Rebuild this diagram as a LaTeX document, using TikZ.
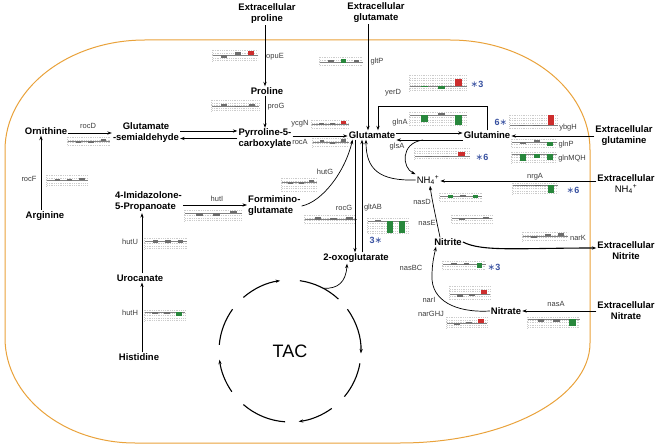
\documentclass[tikz,border=0pt]{standalone}
\usepackage{fontspec}
\setmainfont{Liberation Sans}
\newfontfamily\dejavu{DejaVu Sans}
\usetikzlibrary{arrows.meta,calc}
\definecolor{memb}{RGB}{233,162,59}
\definecolor{sblue}{RGB}{55,80,160}
\definecolor{bred}{RGB}{205,45,45}
\definecolor{bgreen}{RGB}{40,135,60}
\definecolor{bgray}{RGB}{110,110,110}
\definecolor{genec}{RGB}{60,60,60}
\tikzset{
 met/.style={font=\fontsize{9.5}{11}\selectfont\bfseries, inner sep=1pt, align=center},
 gene/.style={font=\fontsize{7.5}{9}\selectfont, text=genec, inner sep=0.5pt},
 starl/.style={font=\fontsize{9}{10}\selectfont\bfseries, text=sblue, inner sep=0.5pt},
 arr/.style={-{Stealth[length=4.5pt,width=3.2pt]}, line width=0.7pt},
 gridl/.style={gray!40, line width=0.3pt, dash pattern=on 1pt off 0.8pt},
 tacl/.style={line width=1.1pt},
}
\newcommand{\st}{{\dejavu\mdseries ∗}}
\newcommand{\nhf}{NH\textsubscript{4}\textsuperscript{+}}
% x, y (top-left), width, height, baseline offset, bars color/low/high
\newcommand{\mchart}[6]{%
 \begin{scope}[shift={(#1,#2)}]
  \foreach \gy in {0.5,3,...,#4} \draw[gridl] (0,\gy) -- (#3,\gy);
  \draw[gridl] (-1,0) -- (-1,#4);
  \draw[gray, line width=0.4pt] (0,#5) -- (#3,#5);
  \foreach \c/\lo/\hi [count=\i] in {#6} {
   \pgfmathsetmacro\cx{#3*(0.3*\i-0.05)}
   \pgfmathsetmacro\hw{0.065*#3}
   \fill[\c] (\cx-\hw,#5-\lo) rectangle (\cx+\hw,#5-\hi);
  }
 \end{scope}}
\begin{document}
\begin{tikzpicture}[x=1pt,y=-1pt]
\useasboundingbox (0,0) rectangle (661,446);
% membrane
\draw[memb, line width=1pt] (5,150) .. controls (5,89.3) and (67.7,40) .. (145,40) -- (450,40)
  .. controls (527.3,40) and (590,89.3) .. (590,150) -- (590,343)
  .. controls (590,398.2) and (504.9,443) .. (400,443) -- (135,443)
  .. controls (63.2,443) and (5,396) .. (5,338) -- cycle;

% metabolites
\node[met] (exPro) at (267,14) {Extracellular\\proline};
\node[met] (exGlu) at (376,13) {Extracellular\\glutamate};
\node[met] (pro) at (267,91) {Proline};
\node[met] (p5c) at (265,139) {Pyrroline-5-\\carboxylate};
\node[met] (glu) at (372,135) {Glutamate};
\node[met] (orn) at (46,131) {Ornithine};
\node[met] (gsa) at (146,133) {Glutamate\\-semialdehyde};
\node[met] (arg) at (45,216) {Arginine};
\node[met, align=left, anchor=west] (imid) at (114,202) {4-Imidazolone-\\5-Propanoate};
\node[met, align=left, anchor=west] (fig) at (247,206) {Formimino-\\glutamate};
\node[met] (uro) at (140,278) {Urocanate};
\node[met] (his) at (139,357) {Histidine};
\node[met] (oxo) at (356,258) {2-oxoglutarate};
\node[font=\fontsize{18}{20}\selectfont, inner sep=0pt] (tac) at (290,351) {TAC};
\node[met] (gln) at (487,135) {Glutamine};
\node[met] (exGln) at (624,136) {Extracellular\\glutamine};
\node[font=\fontsize{9.5}{11}\selectfont, inner sep=1pt] (nh4) at (428,180) {\nhf};
\node[met] (exNH4) at (626,184) {Extracellular\\{\mdseries\nhf}};
\node[met] (nitrite) at (448,242) {Nitrite};
\node[met] (exNitrite) at (626,251) {Extracellular\\Nitrite};
\node[met] (nitrate) at (506,311) {Nitrate};
\node[met] (exNitrate) at (626,311) {Extracellular\\Nitrate};

% gene labels
\node[gene] (gOpuE) at (275,57) {opuE};
\node[gene] (gProG) at (276,107) {proG};
\node[gene] (gRocD) at (88,126) {rocD};
\node[gene] (gRocF) at (29,179) {rocF};
\node[gene] (gYcgN) at (300,124) {ycgN};
\node[gene] (gRocA) at (300,142) {rocA};
\node[gene] (gGltP) at (377,62) {gltP};
\node[gene] (gYerD) at (393,93) {yerD};
\node[gene] (gGlnA) at (400,123) {glnA};
\node[gene] (gGlsA) at (397,147) {glsA};
\node[gene] (gHutG) at (325,172) {hutG};
\node[gene] (gHutI) at (217,199) {hutI};
\node[gene] (gHutU) at (130,242) {hutU};
\node[gene] (gHutH) at (130,313) {hutH};
\node[gene] (gRocG) at (344,208) {rocG};
\node[gene] (gGltAB) at (373,208) {gltAB};
\node[gene] (gYbgH) at (568,128) {ybgH};
\node[gene] (gGlnP) at (566,145) {glnP};
\node[gene] (gGlnMQH) at (572,159) {glnMQH};
\node[gene] (gNrgA) at (535,177) {nrgA};
\node[gene] (gNasD) at (422,202) {nasD};
\node[gene] (gNasE) at (427,223) {nasE};
\node[gene] (gNarK) at (578,238) {narK};
\node[gene] (gNasBC) at (411,268) {nasBC};
\node[gene] (gNarI) at (429,300) {narI};
\node[gene] (gNarGHJ) at (431,314) {narGHJ};
\node[gene] (gNasA) at (556,304) {nasA};

% significance marks
\node[starl] (s1) at (477,84) {\st3};
\node[starl] (s2) at (482,157) {\st6};
\node[starl] (s3) at (501,122) {6\st};
\node[starl] (s4) at (573,190) {\st6};
\node[starl] (s5) at (376,240) {3\st};
\node[starl] (s6) at (494,267) {\st3};

% mini charts
\mchart{213}{50}{45}{12}{5}{bgray/-3.5/0,bgray/0/2.5,bred/-0.5/4}
\mchart{212}{100}{47}{12}{6}{bgray/0/1.5,bgray/-1.5/0,bgray/0/1.5}
\mchart{68}{137}{42}{9}{4}{bgray/-2/0,bgray/-2/0,bgray/0/1.5}
\mchart{47}{175}{41}{12}{5}{bgray/-1.5/0.5,bgray/-1.5/0.5,bgray/0/2}
\mchart{312}{120}{37}{9}{4}{bgray/-1/0.5,bgray/-1/0.5,bred/0/3}
\mchart{313}{138}{36}{10}{4}{bgray/0/1.5,bgray/-2/0,bgray/0/2.5}
\mchart{320}{57}{43}{9}{5}{bgray/0/2,bgreen/-1/3,bgray/0/2}
\mchart{282}{178}{35}{14}{4}{bgray/-2/0,bgray/-2/0,bgray/0/2}
\mchart{185}{210}{57}{12}{3}{bgray/-3/0,bgray/-3/0,bgray/0/2}
\mchart{305}{215}{52}{9}{4}{bgray/-1.5/1.5,bgray/-1.5/1,bgray/-1.5/1.5}
\mchart{368}{218}{40}{16}{3}{bgray/-0.5/0.5,bgreen/-12/0,bgreen/-12/0}
\mchart{145}{238}{42}{12}{3}{bgray/-2/1,bgray/-2/1,bgray/-2.5/1}
\mchart{145}{310}{40}{12}{2}{bgray/-1.5/0.5,bgray/-1.5/0.5,bgreen/-3.5/0.5}
\mchart{410}{75}{57}{17}{11}{bgreen/-1.5/0,bgreen/-3/0,bred/0/6.5}
\mchart{410}{112}{57}{14}{3}{bgreen/-7/0,bgray/0/1.5,bgreen/-10/0}
\mchart{415}{148}{55}{11}{8}{bgray/-0.4/0.4,bgray/-0.4/0.4,bred/0/4}
\mchart{510}{115}{48}{13}{10}{bgray/-0.4/0.4,bgray/-0.4/0.4,bred/0/10}
\mchart{512}{139}{45}{9}{3}{bgray/-2/0,bgray/0/2,bgreen/-4/0}
\mchart{512}{152}{45}{11}{2}{bgreen/-7/0,bgreen/-4/0,bgreen/-6/0}
\mchart{513}{183}{45}{11}{2}{bgray/-0.7/0,bgray/-0.7/0,bgreen/-8/0}
\mchart{440}{193}{42}{9}{3}{bgreen/-2.5/0.5,bgray/-1/0.5,bgreen/-2.5/0.5}
\mchart{452}{215}{40}{8}{3}{bgray/-2/0,bgray/-1.5/0,bgray/-1/1}
\mchart{523}{232}{45}{10}{4}{bgray/-2/0,bgray/0/1.5,bgray/0/2.5}
\mchart{443}{261}{43}{9}{3}{bgray/-1/0.5,bgray/-1/0.5,bgreen/-4/0.5}
\mchart{450}{286}{40}{14}{8}{bgray/-2.5/0,bgray/-2/0,bred/0/3.5}
\mchart{447}{317}{40}{12}{6}{bgray/-2/0,bgray/0/1.5,bred/0/4}
\mchart{528}{317}{52}{11}{2}{bgray/-2.5/0.5,bgray/-2.5/0.5,bgreen/-7/0.5}

% connectors
\draw[arr] ([xshift=-2]exPro.south) -- ([xshift=-2]pro.north);
\draw[arr] ([xshift=-2]pro.south) -- ([xshift=0]p5c.north);
\draw[arr] ([yshift=-2]orn.east) -- ([yshift=-2]orn.east -| gsa.west);
\draw[arr] ([yshift=2]gsa.east) -- ([yshift=2]gsa.east -| p5c.west);
\draw[arr] ([yshift=-5.5]gsa.east -| p5c.west) -- ([yshift=-5.5]gsa.east);
\draw[arr] ([yshift=3]p5c.east) -- ([yshift=3]p5c.east -| glu.west);
\draw[arr] ([xshift=-8]exGlu.south) -- ([xshift=-4]glu.north);
\draw[arr] ([xshift=-4]arg.north) -- ([xshift=-5]orn.south);
\draw[arr] ([yshift=-3]imid.east) -- ([yshift=-3]imid.east -| fig.west);
\draw[arr] ([xshift=2]uro.north) -- ([xshift=2]uro.north |- imid.south);
\draw[arr] ([xshift=3]his.north) -- ([xshift=2]uro.south);
\draw[arr] (fig.east) .. controls (322,202) and (345,172) .. ([xshift=5]glu.south west);
\draw[arr] ([xshift=-17]glu.south) -- ([xshift=-17]glu.south |- oxo.north);
\draw[arr] ([xshift=-10]glu.south |- oxo.north) -- ([xshift=-10]glu.south);
\draw[arr] ([yshift=2]glu.east) -- ([yshift=2]glu.east -| gln.west);
\draw[arr] ([yshift=-5]glu.east -| gln.west) -- ([yshift=-5]glu.east);
\coordinate (yerdTop) at (0,107);
\draw[arr, line width=1pt] (gln.north) -- (gln.north |- yerdTop) -- ([xshift=6]glu.north |- yerdTop) -- ([xshift=6]glu.north);
\coordinate (gsplit) at (423,140);
\draw[arr] (gsplit) .. controls (400,143) and (402,168) .. (nh4.north west);
\draw[arr] (nh4.west) .. controls (380,181) and (366,170) .. ([xshift=-6]glu.south);
\draw[arr] (exGln.west) -- (exGln.west -| gln.east);
\draw[arr] ([yshift=3]exNH4.west) -- ([yshift=3]exNH4.west -| nh4.east);
\draw[arr] ([xshift=-8]nitrite.north) .. controls (436,218) and (432,200) .. ([xshift=2]nh4.south);
\draw[arr, line width=1.1pt] (nitrite.east) .. controls (482,252) and (520,248) .. ([yshift=3]exNitrite.west);
\draw[arr] (nitrate.west) .. controls (455,313) and (431,300) .. (432,276) .. controls (432,264) and (434,256) .. ([xshift=-12]nitrite.south);
\draw[arr] (exNitrate.west) -- (exNitrate.west -| nitrate.east);

% TAC cycle
\draw[arr, tacl] (tac) ++(131:71pt) arc[start angle=131, end angle=98, radius=71pt];
\draw[tacl] (tac) ++(82:71pt) arc[start angle=82, end angle=47, radius=71pt];
\draw[arr, tacl] (tac) ++(36:71pt) arc[start angle=36, end angle=-2, radius=71pt];
\draw[tacl] (tac) ++(-10:71pt) arc[start angle=-10, end angle=-40, radius=71pt];
\draw[arr, tacl] (tac) ++(-54:71pt) arc[start angle=-54, end angle=-83, radius=71pt];
\draw[tacl] (tac) ++(-94:71pt) arc[start angle=-94, end angle=-131, radius=71pt];
\draw[arr, tacl] (tac) ++(-145:71pt) arc[start angle=-145, end angle=-173, radius=71pt];
\draw[tacl] (tac) ++(175:71pt) arc[start angle=175, end angle=144, radius=71pt];
\coordinate (tacjoin) at ([shift={(62:71pt)}]tac.center);
\draw[arr] (tacjoin) .. controls (338,289) and (346,282) .. ([xshift=-9]oxo.south);
\end{tikzpicture}
\end{document}
